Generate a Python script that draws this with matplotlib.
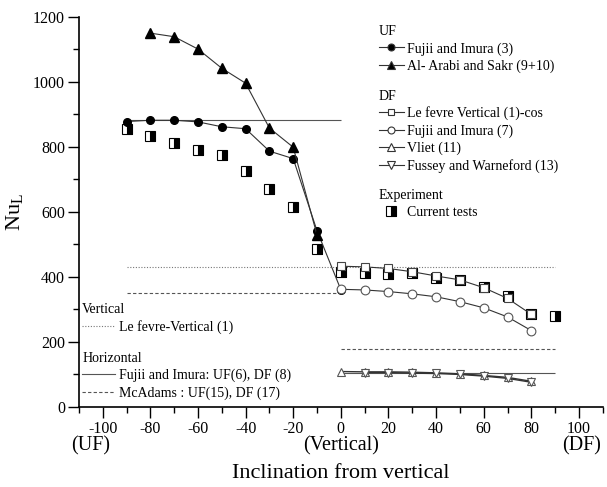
import matplotlib
matplotlib.use('Agg')
import matplotlib.pyplot as plt
from matplotlib.lines import Line2D
from matplotlib.legend import Legend

plt.rcParams['font.family'] = 'Liberation Serif'
plt.rcParams['mathtext.fontset'] = 'custom'
plt.rcParams['mathtext.rm'] = 'Liberation Serif'
plt.rcParams['mathtext.it'] = 'Liberation Serif:italic'
plt.rcParams['axes.unicode_minus'] = False

# upward flow (UF) correlations
uf_angle = [-90, -80, -70, -60, -50, -40, -30, -20, -10, 0]
fujii_uf = [877, 881, 881, 876, 861, 855, 786, 763, 541, 360]
arabi_angle = [-80, -70, -60, -50, -40, -30, -20, -10]
arabi_uf = [1149, 1138, 1100, 1041, 995, 857, 798, 528]

# downward flow (DF) correlations
df_angle = [0, 10, 20, 30, 40, 50, 60, 70, 80]
lefevre_df = [432, 430, 425, 415, 402, 390, 366, 333, 284]
fujii_df = [361, 359, 354, 347, 338, 323, 304, 276, 234]
vliet_df = [108, 107, 107, 106, 104, 101, 96, 90, 78]
fussey_angle = [10, 20, 30, 40, 50, 60, 70, 80]
fussey_df = [105, 105, 103, 102, 99, 94, 87, 75]

# experiment
exp_angle = [-90, -80, -70, -60, -50, -40, -30, -20, -10, 0,
             10, 20, 30, 40, 50, 60, 70, 80, 90]
exp_nu = [853, 833, 812, 791, 774, 724, 669, 615, 485, 413,
          412, 407, 410, 395, 390, 369, 341, 285, 279]

# constant reference values
lefevre_vertical = 430
fujii_horiz_uf = 882
fujii_horiz_df = 105
mcadams_uf = 349
mcadams_df = 177

fig, ax = plt.subplots(figsize=(6.07, 4.87), dpi=100)
fig.subplots_adjust(left=0.130, right=0.993, bottom=0.165, top=0.966)

lc = '#333333'
gc = '#555555'
dot = (0, (1, 1.5))
dash = (0, (3, 2))

# horizontal reference lines
ax.hlines(lefevre_vertical, -90, 90, colors='#777777', linestyles=dot, lw=0.8)
ax.hlines(fujii_horiz_uf, -90, 0, colors=gc, lw=0.8)
ax.hlines(fujii_horiz_df, 0, 90, colors=gc, lw=0.8)
ax.hlines(mcadams_uf, -90, 0, colors=gc, linestyles=dash, lw=0.8)
ax.hlines(mcadams_df, 0, 90, colors=gc, linestyles=dash, lw=0.8)

# experiment
ax.plot(exp_angle, exp_nu, ls='none', marker='s', ms=6.8, fillstyle='right',
        mfc='black', mfcalt='white', mec='black', mew=0.8, zorder=2)

# UF
ax.plot(uf_angle, fujii_uf, color=lc, lw=0.8, marker='o', ms=5.5,
        mfc='black', mec='black', zorder=3)
ax.plot(arabi_angle, arabi_uf, color=lc, lw=0.8, marker='^', ms=6.5,
        mfc='black', mec='black', zorder=3)

# DF
ax.plot(df_angle, lefevre_df, color=lc, lw=0.8, marker='s', ms=6,
        mfc='white', mec='#444444', mew=0.8, zorder=3)
ax.plot(df_angle, fujii_df, color=lc, lw=0.8, marker='o', ms=6.3,
        mfc='white', mec='#555555', mew=0.8, zorder=3)
ax.plot(df_angle, vliet_df, color=lc, lw=1.0, marker='^', ms=6.2,
        mfc='white', mec='#555555', mew=0.8, zorder=3)
ax.plot(fussey_angle, fussey_df, color=lc, lw=1.0, marker='v', ms=6.2,
        mfc='white', mec='#555555', mew=0.8, zorder=3)

ax.set_xlim(-110, 110)
ax.set_ylim(0, 1200)
ax.set_xticks(range(-100, 101, 20))
ax.set_xticks(range(-110, 111, 10), minor=True)
ax.set_yticks(range(0, 1201, 200))
ax.set_yticks(range(0, 1201, 100), minor=True)
ax.tick_params(which='major', direction='out', length=8, width=1, labelsize=11.5)
ax.tick_params(which='minor', direction='out', length=4, width=1)
ax.tick_params(axis='y', which='major', pad=2)
ax.tick_params(axis='x', which='major', pad=2)
ax.spines['top'].set_visible(False)
ax.spines['right'].set_visible(False)
ax.spines['left'].set_linewidth(1.2)
ax.spines['bottom'].set_linewidth(1.2)

ax.set_ylabel(r'Nu$_\mathrm{L}$', fontsize=16, labelpad=6)
ax.set_xlabel('Inclination from vertical', fontsize=16, labelpad=20)

trans = ax.get_xaxis_transform()
for xpos, lab in [(-105, '(UF)'), (0, '(Vertical)'), (101, '(DF)')]:
    ax.text(xpos, -0.1, lab, transform=trans, ha='center', va='center',
            fontsize=14.5)


def make_legend(handles, labels, title, anchor, hlen):
    leg = Legend(ax, handles, labels, title=title, loc='upper left',
                 bbox_to_anchor=anchor, frameon=False, fontsize=10,
                 title_fontsize=10, handlelength=hlen, handletextpad=0.25,
                 labelspacing=0.28, borderpad=0, borderaxespad=0,
                 alignment='left')
    ax.add_artist(leg)
    return leg


def mk(marker, face, size):
    return Line2D([], [], color=lc, lw=0.8, marker=marker, ms=size,
                  mfc=face, mec='#333333', mew=0.8)


make_legend([mk('o', 'black', 5), mk('^', 'black', 5.5)],
            ['Fujii and Imura (3)', 'Al- Arabi and Sakr (9+10)'],
            'UF', (0.572, 0.978), 1.8)
make_legend([mk('s', 'white', 5), mk('o', 'white', 5),
             mk('^', 'white', 5.5), mk('v', 'white', 5.5)],
            ['Le fevre Vertical (1)-cos', 'Fujii and Imura (7)',
             'Vliet (11)', 'Fussey and Warneford (13)'],
            'DF', (0.572, 0.813), 1.8)
make_legend([Line2D([], [], ls='none', marker='s', ms=6.5, fillstyle='right',
                    mfc='black', mfcalt='white', mec='black', mew=0.8)],
            ['Current tests'], 'Experiment', (0.572, 0.557), 1.8)
make_legend([Line2D([], [], color='#777777', ls=dot, lw=0.8)],
            ['Le fevre-Vertical (1)'], 'Vertical', (0.006, 0.266), 2.4)
make_legend([Line2D([], [], color=gc, lw=0.8),
             Line2D([], [], color=gc, ls=dash, lw=0.8)],
            ['Fujii and Imura: UF(6), DF (8)', 'McAdams : UF(15), DF (17)'],
            'Horizontal', (0.006, 0.14), 2.4)

fig.savefig('out.png', dpi=100)
